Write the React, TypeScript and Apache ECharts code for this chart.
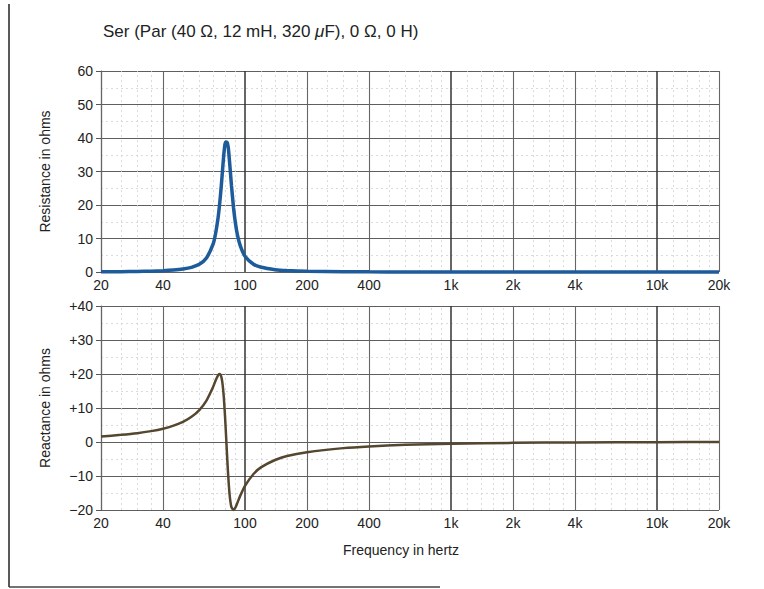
import React, { useEffect, useRef } from "react";
import * as echarts from "echarts";

const FONT = "'Liberation Sans', Arial, Helvetica, sans-serif";

const titleText = "Ser (Par (40 Ω, 12 mH, 320 ";
const xAxisTitle = "Frequency in hertz";
const topAxisTitle = "Resistance in ohms";
const bottomAxisTitle = "Reactance in ohms";

const freqHz = [20, 25, 30, 35, 40, 45, 50, 55, 60, 65, 70, 72, 74, 75, 76, 77, 78, 79, 80, 81, 82, 83, 84, 85, 86, 88, 90, 92, 95, 100, 110, 120, 140, 160, 200, 300, 400, 600, 1000, 2000, 4000, 10000, 20000];
const resistance = [0.06, 0.11, 0.17, 0.26, 0.39, 0.59, 0.9, 1.4, 2.3, 4.2, 8.3, 11.5, 16.1, 19.2, 22.8, 26.9, 31.3, 35.4, 38.2, 38.8, 38.6, 37.0, 33.5, 29.6, 25.7, 19.1, 14.3, 10.9, 7.7, 4.7, 2.3, 1.4, 0.7, 0.43, 0.22, 0.08, 0.04, 0.02, 0.01, 0, 0, 0, 0];
const reactance = [1.6, 2.1, 2.6, 3.2, 3.9, 4.8, 5.9, 7.4, 9.4, 12.2, 16.2, 18.1, 19.6, 20.0, 19.8, 18.8, 16.5, 12.8, 7.6, 1.4, -4.9, -10.5, -14.8, -17.6, -19.2, -20.0, -19.2, -17.8, -15.7, -12.9, -9.4, -7.4, -5.3, -4.1, -3.0, -1.8, -1.3, -0.84, -0.5, -0.25, -0.12, -0.05, -0.02];

const majorFreqs = [20, 40, 100, 200, 400, 1000, 2000, 4000, 10000, 20000];
const majorLabels = ["20", "40", "100", "200", "400", "1k", "2k", "4k", "10k", "20k"];
const decadeFreqs = [100, 1000, 10000];
const minorFreqs = [25, 30, 35, 50, 60, 70, 80, 90, 120, 140, 160, 180, 250, 300, 350, 500, 600, 700, 800, 900, 1200, 1400, 1600, 1800, 2500, 3000, 3500, 5000, 6000, 7000, 8000, 9000, 12000, 14000, 16000, 18000];

const topRange = [0, 60];
const bottomRange = [-20, 40];

function gridLines() {
  const items: any[] = [];
  minorFreqs.forEach((f) => {
    items.push({
      xAxis: f,
      lineStyle: { color: "#d2d2d2", width: 0.8, type: [2, 3] },
      label: { show: false },
    });
  });
  majorFreqs.forEach((f, i) => {
    const dec = decadeFreqs.indexOf(f) >= 0;
    items.push({
      xAxis: f,
      lineStyle: { color: dec ? "#333" : "#666", width: dec ? 1.5 : 1.1, type: "solid" },
      label: {
        show: true,
        position: "start",
        distance: 6,
        formatter: majorLabels[i],
        color: "#222",
        fontSize: 14,
        fontFamily: FONT,
      },
    });
  });
  return items;
}

function yAxisCommon(range: number[], name: string, gridIndex: number, signed: boolean) {
  return {
    type: "value",
    gridIndex,
    min: range[0],
    max: range[1],
    interval: 10,
    name,
    nameLocation: "middle",
    nameGap: 49,
    nameTextStyle: { fontSize: 14, color: "#222", fontFamily: FONT },
    axisLine: { show: true, lineStyle: { color: "#555", width: 1.2 } },
    axisTick: { show: true, length: 5, lineStyle: { color: "#555" } },
    axisLabel: {
      fontSize: 14,
      color: "#222",
      fontFamily: FONT,
      margin: 8,
      formatter: (v: number) => (signed ? (v > 0 ? "+" + v : v < 0 ? "\u2212" + Math.abs(v) : "0") : String(v)),
    },
    splitLine: { show: true, lineStyle: { color: "#5e5e5e", width: 1.2 } },
    minorTick: { show: false, splitNumber: 2 },
    minorSplitLine: { show: true, lineStyle: { color: "#d2d2d2", width: 0.8, type: [2, 3] } },
  };
}

export default function App() {
  const ref = useRef<HTMLDivElement>(null);
  useEffect(() => {
    if (!ref.current) return;
    const chart = echarts.init(ref.current, null, { renderer: "svg", width: 764, height: 589 });
    const topData = freqHz.map((f, i) => [f, resistance[i]]);
    const bottomData = freqHz.map((f, i) => [f, reactance[i]]);
    const xAxisBase = {
      type: "log",
      logBase: 10,
      min: 20,
      max: 20000,
      axisLine: { show: false, onZero: false },
      axisTick: { show: false },
      axisLabel: { show: false },
      splitLine: { show: false },
    };
    chart.setOption({
      animation: false,
      backgroundColor: "#ffffff",
      grid: [
        { left: 101, top: 71, width: 618, height: 201 },
        { left: 101, top: 306, width: 618, height: 204 },
      ],
      xAxis: [
        { ...xAxisBase, gridIndex: 0 },
        { ...xAxisBase, gridIndex: 1 },
      ],
      yAxis: [
        yAxisCommon(topRange, topAxisTitle, 0, false),
        yAxisCommon(bottomRange, bottomAxisTitle, 1, true),
      ],
      series: [
        {
          type: "line",
          xAxisIndex: 0,
          yAxisIndex: 0,
          data: topData,
          z: 1,
          silent: true,
          showSymbol: false,
          lineStyle: { opacity: 0 },
          markLine: { silent: true, symbol: ["none", "none"], z: 1, animation: false, data: gridLines() },
        },
        {
          type: "line",
          xAxisIndex: 1,
          yAxisIndex: 1,
          data: bottomData,
          z: 1,
          silent: true,
          showSymbol: false,
          lineStyle: { opacity: 0 },
          markLine: { silent: true, symbol: ["none", "none"], z: 1, animation: false, data: gridLines() },
        },
        {
          name: "Resistance",
          type: "line",
          xAxisIndex: 0,
          yAxisIndex: 0,
          data: topData,
          z: 10,
          smooth: 0.2,
          clip: false,
          showSymbol: false,
          lineStyle: { color: "#1d5b9b", width: 3.5 },
        },
        {
          name: "Reactance",
          type: "line",
          xAxisIndex: 1,
          yAxisIndex: 1,
          data: bottomData,
          z: 10,
          smooth: 0.2,
          clip: false,
          showSymbol: false,
          lineStyle: { color: "#54462f", width: 2.5 },
        },
      ],
      graphic: [
        {
          type: "text",
          left: 103,
          top: 23,
          style: {
            text: "{n|" + titleText + "}{i|\u03bc}{n|F), 0 \u03a9, 0 H)}",
            rich: {
              n: { fontSize: 17, fontFamily: FONT, fill: "#222" },
              i: { fontSize: 17, fontFamily: FONT, fontStyle: "italic", fill: "#222" },
            },
          },
        },
        {
          type: "text",
          left: 343,
          top: 543,
          style: { text: xAxisTitle, fontSize: 14, fontFamily: FONT, fill: "#222" },
        },
        {
          type: "line",
          shape: { x1: 9, y1: 4, x2: 9, y2: 587 },
          style: { stroke: "#222", lineWidth: 1.5 },
        },
        {
          type: "line",
          shape: { x1: 9, y1: 587, x2: 440, y2: 587 },
          style: { stroke: "#444", lineWidth: 1.5 },
        },
      ],
    });
    return () => chart.dispose();
  }, []);
  return (
    <div
      ref={ref}
      style={{ position: "fixed", left: 0, top: 0, width: 764, height: 589, background: "#fff" }}
    />
  );
}
